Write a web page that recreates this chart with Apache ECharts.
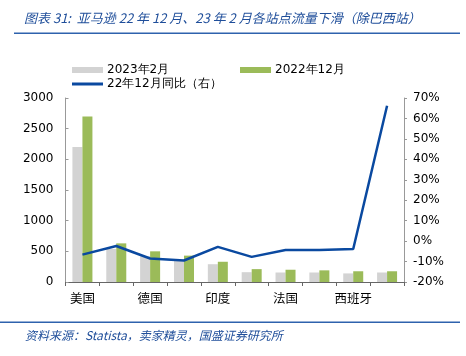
<!DOCTYPE html>
<html><head><meta charset="utf-8">
<script src="https://cdn.jsdelivr.net/npm/echarts@6/dist/echarts.min.js"></script>
<style>html,body{margin:0;padding:0;background:#fff}#c{width:466px;height:356px}</style>
</head><body><div id="c"></div>
<script>
var categories = ['美国','日本','德国','英国','印度','意大利','法国','加拿大','西班牙','墨西哥'];
var feb2023 = [2200, 540, 420, 360, 290, 160, 155, 155, 140, 155];
var dec2022 = [2700, 630, 500, 430, 330, 210, 200, 190, 175, 175];
var yoyDec22 = [-6.6, -2.4, -8.5, -9.5, -2.8, -7.7, -4.3, -4.3, -3.9, 66.2];
var leftTicks = [0, 3000, 500];
var rightTicks = [-20, 70, 10];

var chart = echarts.init(document.getElementById('c'));
var blue = '#0A49A0';
var font = 'DejaVu Sans';
function legendBox(name, left, top, h) {
  return {left: left, top: top, itemWidth: 31, itemHeight: h, itemGap: 0, padding: 0,
    selectedMode: false, data: [{name: name, icon: 'rect'}],
    textStyle: {fontFamily: font, fontSize: 12, color: '#000', padding: [0,0,0,-1]}};
}
chart.setOption({
  animation: false,
  graphic: [
    {type: 'text', left: 24, top: 12, style: {text: '图表 31:  亚马逊 22 年 12 月、23 年 2 月各站点流量下滑（除巴西站）',
      font: 'italic 13px "Noto Sans CJK SC"', fill: '#1F4E9A'}},
    {type: 'rect', shape: {x: 14, y: 32.5, width: 446, height: 1.6}, style: {fill: '#2E62AD'}},
    {type: 'rect', shape: {x: 0, y: 321.5, width: 460, height: 1.4}, style: {fill: '#2E62AD'}},
    {type: 'text', left: 25, top: 329, style: {text: '资料来源：Statista，卖家精灵，国盛证券研究所',
      font: 'italic 12px "Noto Sans CJK SC"', fill: '#1F4E9A'}}
  ],
  legend: [
    legendBox('2023年2月', 72, 64, 6),
    legendBox('2022年12月', 240, 64, 6),
    legendBox('22年12月同比（右）', 72, 78, 3)
  ],
  grid: {left: 65.5, right: 62, top: 98, bottom: 74},
  xAxis: {
    type: 'category', data: categories,
    axisLine: {lineStyle: {color: '#666', width: 1}},
    axisTick: {show: true, length: 4, interval: 0, lineStyle: {color: '#666'}},
    axisLabel: {interval: 1, color: '#000', fontSize: 12.5, fontFamily: 'Noto Sans CJK SC', margin: 10}
  },
  yAxis: [
    {type: 'value', min: leftTicks[0], max: leftTicks[1], interval: leftTicks[2],
      splitLine: {show: false},
      axisLine: {show: true, lineStyle: {color: '#999'}},
      axisTick: {show: true, inside: true, length: 3, lineStyle: {color: '#999'}},
      axisLabel: {color: '#000', fontSize: 12, fontFamily: font, margin: 12,
        formatter: function (v) { return String(v); }}},
    {type: 'value', min: rightTicks[0], max: rightTicks[1], interval: rightTicks[2],
      splitLine: {show: false},
      axisLine: {show: true, lineStyle: {color: '#999'}},
      axisTick: {show: true, length: 3, lineStyle: {color: '#999'}},
      axisLabel: {color: '#000', fontSize: 12, fontFamily: font, margin: 9, formatter: '{value}%'}}
  ],
  series: [
    {name: '2023年2月', type: 'bar', data: feb2023, barWidth: 10, barGap: '0%',
      itemStyle: {color: '#D3D3D3'}},
    {name: '2022年12月', type: 'bar', data: dec2022, barWidth: 10,
      itemStyle: {color: '#9BBB59'}},
    {name: '22年12月同比（右）', type: 'line', yAxisIndex: 1, data: yoyDec22,
      symbol: 'none', lineStyle: {color: blue, width: 2.5}, itemStyle: {color: blue}}
  ]
});
</script></body></html>
